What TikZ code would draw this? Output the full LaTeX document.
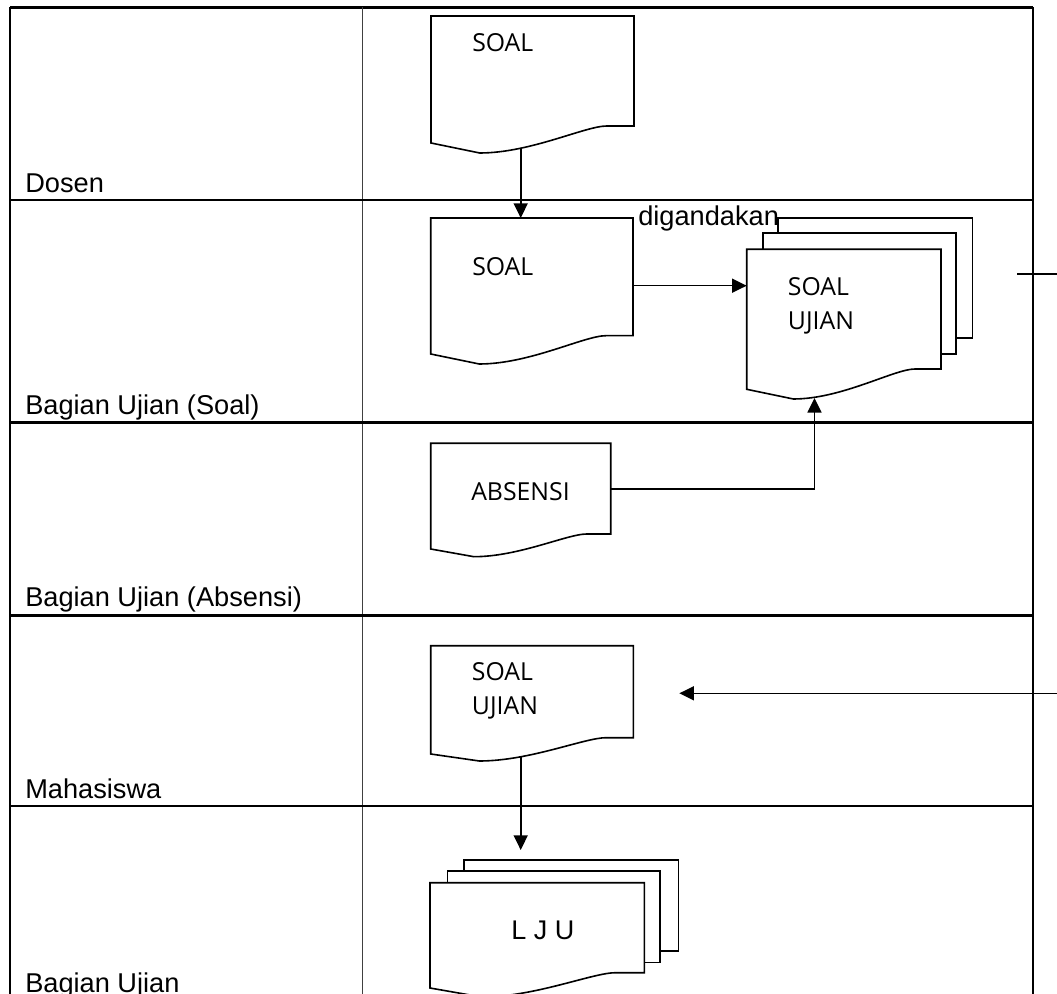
\documentclass[tikz,border=0pt]{standalone}
\usepackage{fontspec}
\setmainfont{Liberation Sans}
\newfontfamily\docfont{Open Sans}
\usetikzlibrary{arrows.meta,calc}
\pgfdeclarelayer{bg}
\pgfsetlayers{bg,main}
\newcommand\mydoc[6]{% L T R Br Bl low
  \pgfmathsetmacro\dW{#3-#1}%
  \pgfmathsetmacro\xa{#3-0.134*\dW}%
  \pgfmathsetmacro\xb{#3-0.24*\dW}%
  \pgfmathsetmacro\xc{#1+0.49*\dW}%
  \pgfmathsetmacro\xl{#1+0.24*\dW}%
  \draw[docline] (#1,#2) -- (#3,#2) -- (#3,#4) -- (\xa,#4) .. controls (\xb,#4) and (\xc,#6) .. (\xl,#6) -- (#1,#5) -- cycle;
}
\tikzset{
  tableline/.style={line width=1.7pt},
  divline/.style={line width=1pt, black!75},
  docline/.style={line width=1.2pt, fill=white, line join=miter},
  conn/.style={line width=1.2pt, -{Triangle[length=11pt,width=10.5pt]}},
  plainconn/.style={line width=1.2pt},
  lbl/.style={font=\fontsize{20.4}{24}\selectfont, anchor=base west, inner sep=0pt},
  doctext/.style={font=\docfont\fontsize{18.6}{26}\selectfont, anchor=west, inner sep=0pt, align=left},
  ljutext/.style={font=\fontsize{20.25}{24}\selectfont, anchor=center, inner sep=0pt}
}
\begin{document}
\begin{tikzpicture}[x=0.75pt,y=-0.75pt]
\useasboundingbox (0,0) rectangle (1057,994);
\clip (0,0) rectangle (1057,994);
% table
\draw[tableline] (10,7.5) -- (1033,7.5);
\draw[tableline] (10,7.5) -- (10,1000);
\draw[tableline] (1033,7.5) -- (1033,1000);
\draw[divline] (362.3,7.5) -- (362.3,1000);
\foreach \y in {200,422.5,615.5,806} \draw[tableline] (10,\y) -- (1033,\y);
% lane labels
\node[lbl] (l1) at (25,192.5) {Dosen};
\node[lbl] (l2) at (25,414.5) {Bagian Ujian (Soal)};
\node[lbl] (l3) at (25,607) {Bagian Ujian (Absensi)};
\node[lbl] (l4) at (25,798) {Mahasiswa};
\node[lbl] (l5) at (25,992.5) {Bagian Ujian};
% documents
\mydoc{431}{16}{634}{126}{143}{153}
\mydoc{430.7}{218}{633}{335.7}{354}{364}
\draw[docline] (777.7,218.3) rectangle (972.3,338.3);
\draw[docline] (762.7,233.3) rectangle (955.7,354.3);
\mydoc{746.7}{249.3}{941}{369}{389.3}{399}
\mydoc{430.7}{443.3}{610.7}{534}{549}{556.7}
\mydoc{430.7}{645.7}{633.3}{737.7}{754}{761}
\draw[docline] (464,860) rectangle (678.3,950.7);
\draw[docline] (447.3,871) rectangle (660,962.3);
\mydoc{430}{882.7}{644.3}{972.7}{988}{997}
% document texts
\node[doctext] (t1) at (472,43) {SOAL};
\node[doctext] (t2) at (472,267) {SOAL};
\node[doctext] (t3) at (787.7,306) {SOAL\\UJIAN};
\node[doctext] (t4) at (471,491.7) {ABSENSI};
\node[doctext] (t5) at (471.7,691) {SOAL\\UJIAN};
\node[ljutext] (t6) at (543,930) {L J U};
\node[lbl] (dig) at (638,225.5) {digandakan};
% connector points
\coordinate (d1bot) at (520.7,148);
\coordinate (d2top) at (520.7,218);
\coordinate (d2right) at (633,285.7);
\coordinate (suleft) at (746.7,285.7);
\coordinate (abright) at (610.7,489);
\coordinate (subot) at (814.5,398);
\coordinate (stubA) at (1017,274.3);
\coordinate (stubB) at (1057,274.3);
\coordinate (inR) at (1057,693.3);
\coordinate (inTip) at (679.3,693.3);
\coordinate (mhbot) at (520.7,756);
\coordinate (ljuTip) at (520.7,850);
\begin{pgfonlayer}{bg}
\draw[conn] (d1bot) -- (d2top);
\draw[conn] (d2right) -- (suleft);
\draw[conn] (abright) -| (subot);
\draw[plainconn] (stubA) -- (stubB);
\draw[conn] (inR) -- (inTip);
\draw[conn] (mhbot) -- (ljuTip);
\end{pgfonlayer}
\end{tikzpicture}
\end{document}
